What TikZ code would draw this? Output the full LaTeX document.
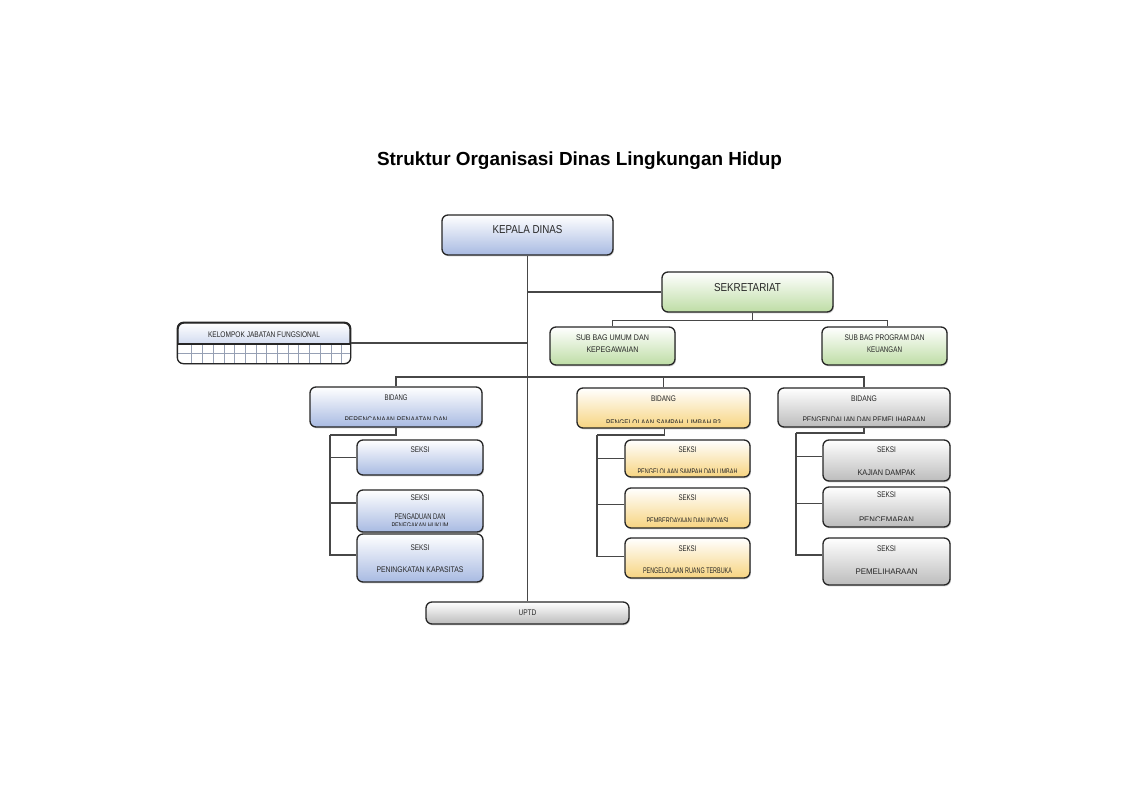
\documentclass[tikz,border=0pt]{standalone}
\usepackage{fontspec}
\usepackage{graphicx}
\setmainfont{Liberation Sans}
\newfontfamily\nfont[FakeStretch=0.85]{Liberation Sans}
\usetikzlibrary{shadows}
\newcommand\fitw[2]{\resizebox{\dimexpr #1pt*3/4\relax}{\height}{#2}}
\definecolor{bluebot}{RGB}{168,186,226}
\definecolor{greenbot}{RGB}{190,221,165}
\definecolor{yellowbot}{RGB}{247,212,128}
\definecolor{graybot}{RGB}{188,188,188}
\definecolor{gridc}{RGB}{150,160,180}
\tikzset{
  box/.style 2 args={draw=black!85, line width=1pt, rounded corners=4.5pt,
    minimum width=#1*0.75pt, minimum height=#2*0.75pt, inner sep=0pt,
    drop shadow={shadow xshift=0.7pt, shadow yshift=-1pt, opacity=0.3, fill=black!60}},
  fblue/.style={top color=white, bottom color=bluebot},
  fgreen/.style={top color=white, bottom color=greenbot},
  fyellow/.style={top color=white, bottom color=yellowbot},
  fgray/.style={top color=white, bottom color=graybot},
  ln/.style={draw=black!72, line width=0.95pt},
  lbl/.style={inner sep=0pt, font=\nfont\fontsize{6.1}{7}\selectfont, text height=4.35pt, text depth=0pt, text=black!85},
  big/.style={inner sep=0pt, font=\nfont\fontsize{8.6}{10}\selectfont, text height=6.15pt, text depth=0pt, text=black!85},
}
\begin{document}
\begin{tikzpicture}[x=0.75pt, y=-0.75pt]
\useasboundingbox (0,0) rectangle (1123,793);

\node[font=\bfseries\fontsize{14.2}{17}\selectfont, anchor=base, inner sep=0pt] (title) at (579.5,165) {Struktur Organisasi Dinas Lingkungan Hidup};

% ---------- boxes ----------
\node[box={171}{40}, fblue] (kd) at (527.5,235) {};
\node[box={171}{40}, fgreen] (sek) at (747.5,292) {};
\node[box={125}{38}, fgreen] (sub1) at (612.5,346) {};
\node[box={125}{38}, fgreen] (sub2) at (884.5,346) {};
\node[box={172}{40}, fblue] (kjf) at (264,343) {};

\node[box={172}{40}, fblue] (b1) at (396,407) {};
\node[box={173}{40}, fyellow] (b2) at (663.5,408) {};
\node[box={172}{39}, fgray] (b3) at (864,407.5) {};

\node[box={126}{35}, fblue] (s1l) at (420,457.5) {};
\node[box={126}{42}, fblue] (s2l) at (420,511) {};
\node[box={126}{48}, fblue] (s3l) at (420,558) {};

\node[box={125}{37}, fyellow] (s1m) at (687.5,458.5) {};
\node[box={125}{40}, fyellow] (s2m) at (687.5,508) {};
\node[box={125}{40}, fyellow] (s3m) at (687.5,558) {};

\node[box={127}{41}, fgray] (s1r) at (886.5,460.5) {};
\node[box={127}{40}, fgray] (s2r) at (886.5,507) {};
\node[box={127}{47}, fgray] (s3r) at (886.5,561.5) {};

\node[box={203}{22}, fgray] (uptd) at (527.5,613) {};

% ---------- grid of kelompok jabatan fungsional ----------
\begin{scope}
  \clip[rounded corners=4.5pt] (kjf.north west) rectangle (kjf.south east);
  \fill[white] (178,344) rectangle (350,364);
  \foreach \i in {1,...,15} {\draw[gridc, line width=0.45pt] (181+\i*10.7,344) -- (181+\i*10.7,364);}
  \draw[gridc, line width=0.45pt] (178,353.5) -- (350,353.5);
\end{scope}
\draw[black!85, line width=0.9pt] (178,344) -- (350,344);
\draw[black!85, line width=1pt, rounded corners=4.5pt] (kjf.north west) rectangle (kjf.south east);

% ---------- texts ----------
\node[big] (kd-t) at (527.5,229) {\fitw{70}{KEPALA DINAS}};
\node[big] (sek-t) at (747.5,287) {\fitw{67}{SEKRETARIAT}};
\node[lbl] (sub1-a) at (612.5,338) {\fitw{73}{SUB BAG UMUM DAN}};
\node[lbl] (sub1-b) at (612.5,350) {\fitw{52}{KEPEGAWAIAN}};
\node[lbl] (sub2-a) at (884.5,338) {\fitw{80}{SUB BAG PROGRAM DAN}};
\node[lbl] (sub2-b) at (884.5,350) {\fitw{35}{KEUANGAN}};
\node[lbl] (kjf-t) at (264,335) {\fitw{112}{KELOMPOK JABATAN FUNGSIONAL}};

\node[lbl] (b1-a) at (396,398) {\fitw{23}{BIDANG}};
\begin{scope}\clip (300,400) rectangle (500,419.3);
  \node[lbl] (b1-b) at (396,419.5) {\fitw{103}{PERENCANAAN PENAATAN DAN}};\end{scope}
\node[lbl] (b2-a) at (663.5,399) {\fitw{25}{BIDANG}};
\begin{scope}\clip (560,400) rectangle (760,422.3);
  \node[lbl] (b2-b) at (663.5,422.2) {\fitw{115}{PENGELOLAAN SAMPAH, LIMBAH B3}};\end{scope}
\node[lbl] (b3-a) at (864,398.5) {\fitw{26}{BIDANG}};
\begin{scope}\clip (770,400) rectangle (960,420);
  \node[lbl] (b3-b) at (864,419.6) {\fitw{123}{PENGENDALIAN DAN PEMELIHARAAN}};\end{scope}

\node[lbl] (s1l-a) at (420,450) {\fitw{19}{SEKSI}};
\node[lbl] (s2l-a) at (420,498) {\fitw{19}{SEKSI}};
\node[lbl] (s2l-b) at (420,517) {\fitw{51}{PENGADUAN DAN}};
\begin{scope}\clip (350,520) rectangle (490,525.7);
  \node[lbl] (s2l-c) at (420,525.6) {\fitw{57}{PENEGAKAN HUKUM}};\end{scope}
\node[lbl] (s3l-a) at (420,548) {\fitw{19}{SEKSI}};
\node[lbl] (s3l-b) at (420,570) {\fitw{87}{PENINGKATAN KAPASITAS}};

\node[lbl] (s1m-a) at (687.5,450) {\fitw{18}{SEKSI}};
\begin{scope}\clip (620,462) rectangle (760,472);
  \node[lbl] (s1m-b) at (687.5,471.9) {\fitw{100}{PENGELOLAAN SAMPAH DAN LIMBAH}};\end{scope}
\node[lbl] (s2m-a) at (687.5,498) {\fitw{18}{SEKSI}};
\begin{scope}\clip (620,510) rectangle (760,521.7);
  \node[lbl] (s2m-b) at (687.5,520.9) {\fitw{82}{PEMBERDAYAAN DAN INOVASI}};\end{scope}
\node[lbl] (s3m-a) at (687.5,549) {\fitw{18}{SEKSI}};
\node[lbl] (s3m-b) at (687.5,571) {\fitw{89}{PENGELOLAAN RUANG TERBUKA}};

\node[lbl] (s1r-a) at (886.5,450) {\fitw{19}{SEKSI}};
\node[lbl] (s1r-b) at (886.5,473) {\fitw{58}{KAJIAN DAMPAK}};
\node[lbl] (s2r-a) at (886.5,495) {\fitw{19}{SEKSI}};
\begin{scope}\clip (820,505) rectangle (960,520.7);
  \node[lbl] (s2r-b) at (886.5,519.6) {\fitw{55}{PENCEMARAN}};\end{scope}
\node[lbl] (s3r-a) at (886.5,549) {\fitw{19}{SEKSI}};
\node[lbl] (s3r-b) at (886.5,572) {\fitw{62}{PEMELIHARAAN}};

\node[lbl] (uptd-t) at (527.5,613) {\fitw{18}{UPTD}};

% ---------- connectors ----------
\draw[ln] (kd.south) -- (uptd.north);
\draw[ln] (sek.west) -- (sek.west -| kd.south);
\draw[ln] (kjf.east) -- (kjf.east -| kd.south);
\draw[ln] ([xshift=4pt]sek.south) -- ++(0,8) coordinate (sb);
\draw[ln] (sub1.north) |- (sb) -| ([xshift=2pt]sub2.north);
\coordinate (bb) at (527.5,377);
\draw[ln] (b1.north) |- (bb) -| (b3.north);
\draw[ln] (b2.north) -- (b2.north |- bb);

\coordinate (lb) at (330,435);
\coordinate (mb) at (597,435);
\coordinate (rb) at (796,433);
\draw[ln] (b1.south) |- (lb);
\draw[ln] ([xshift=1pt]b2.south) |- (mb);
\draw[ln] (b3.south) |- (rb);
\draw[ln] (s1l.west) -| (lb);
\draw[ln] ([yshift=6pt]s2l.west) -| (lb);
\draw[ln] ([yshift=2.25pt]s3l.west) -| (lb);
\draw[ln] (s1m.west) -| (mb);
\draw[ln] ([yshift=2.8pt]s2m.west) -| (mb);
\draw[ln] ([yshift=1pt]s3m.west) -| (mb);
\draw[ln] ([yshift=2.85pt]s1r.west) -| (rb);
\draw[ln] ([yshift=2.8pt]s2r.west) -| (rb);
\draw[ln] ([yshift=4.9pt]s3r.west) -| (rb);
\end{tikzpicture}
\end{document}
